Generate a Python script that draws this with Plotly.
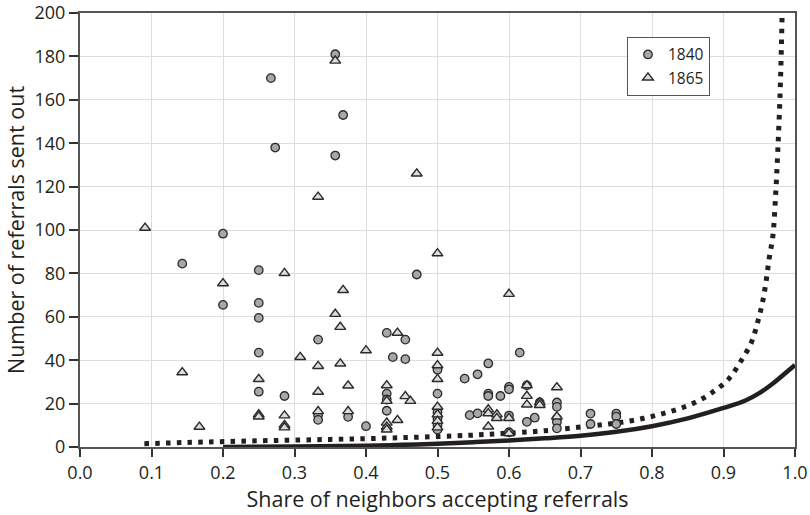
import plotly.graph_objects as go

# ---- data ----
c1840_x = [0.143, 0.2, 0.2, 0.25, 0.25, 0.25, 0.25, 0.25, 0.267, 0.273, 0.286,
           0.333, 0.333, 0.333, 0.357, 0.357, 0.368, 0.375, 0.4,
           0.429, 0.429, 0.429, 0.429, 0.4375, 0.455, 0.455, 0.471,
           0.5, 0.5, 0.5, 0.5, 0.5, 0.5, 0.538, 0.545, 0.556, 0.556,
           0.571, 0.571, 0.571, 0.588, 0.6, 0.6, 0.6, 0.6, 0.615,
           0.625, 0.625, 0.636, 0.643, 0.667, 0.667, 0.667, 0.667, 0.667,
           0.714, 0.714, 0.75, 0.75, 0.75]
c1840_y = [84.5, 98.3, 65.5, 81.5, 66.4, 59.5, 43.5, 25.5, 170, 138, 23.5,
           49.5, 14.7, 12.5, 181, 134.3, 153, 13.9, 9.6,
           52.6, 24.6, 21.9, 16.7, 41.4, 49.5, 40.5, 79.5,
           35.6, 24.6, 16, 13, 10, 8, 31.5, 14.7, 33.5, 15.5,
           38.5, 24.6, 23.5, 23.5, 27.7, 26.6, 14.5, 6.8, 43.5,
           28.4, 11.6, 13.5, 20.5, 20.5, 18.5, 13.2, 11.5, 8.6,
           15.4, 10.6, 15.4, 14, 10.6]

t1865_x = [0.091, 0.143, 0.167, 0.2, 0.25, 0.25, 0.25, 0.286, 0.286, 0.286, 0.286,
           0.308, 0.333, 0.333, 0.333, 0.333, 0.357, 0.357, 0.364, 0.364, 0.368,
           0.375, 0.375, 0.4, 0.429, 0.429, 0.429, 0.429, 0.429, 0.444, 0.444,
           0.455, 0.462, 0.471, 0.5, 0.5, 0.5, 0.5, 0.5, 0.5, 0.5, 0.5,
           0.571, 0.571, 0.571, 0.583, 0.583, 0.6, 0.6, 0.6,
           0.625, 0.625, 0.625, 0.643, 0.643, 0.667, 0.667]
t1865_y = [101, 34.4, 9.3, 75.4, 31.3, 15, 14, 80.1, 14.5, 10.1, 9,
           41.4, 115.3, 37.3, 25.4, 16.5, 178, 61.3, 55.3, 38.4, 72.3,
           28.3, 16.5, 44.5, 28.4, 21.2, 11.2, 9.3, 8, 52.6, 12.4,
           23.4, 21.2, 126, 89.2, 43.4, 37.6, 31.3, 18.5, 15, 12, 9,
           17.3, 15.5, 9.4, 15, 13.3, 70.5, 13.3, 6.3,
           28.4, 23.5, 19.5, 20.5, 19.3, 27.5, 14]

# dotted curve, points
dot_x = [0.09, 0.15, 0.24, 0.35, 0.45, 0.545, 0.59, 0.65, 0.71, 0.74, 0.771,
         0.8, 0.829, 0.858, 0.884, 0.907, 0.924, 0.939, 0.948, 0.955,
         0.96, 0.964, 0.969, 0.973, 0.976, 0.979, 0.981, 0.982]
dot_y = [1.5, 2.1, 2.8, 3.5, 4.3, 5.4, 6.2, 7.5, 9.6, 10.6, 12.1,
         14.1, 16.7, 20.2, 25.1, 31.3, 39.4, 48.2, 57.8, 67.4,
         77.4, 87.2, 97.1, 116.8, 137, 161.5, 185, 200]

# solid curve, points
sol_x = [0.2, 0.3, 0.4, 0.45, 0.5, 0.55, 0.6, 0.65, 0.7, 0.75, 0.8, 0.85,
         0.9, 0.93, 0.95, 0.97, 0.99, 1.0]
sol_y = [0, 0.2, 0.6, 1.0, 1.5, 2.2, 3.0, 4.0, 5.2, 7.0, 9.6, 13.2,
         18.0, 21.3, 24.8, 29.5, 35.0, 37.8]

xticks = [round(i * 0.1, 1) for i in range(11)]
xlabels = [f"{v:.1f}" for v in xticks]
yticks = list(range(0, 201, 20))

FONT = "Open Sans"
fig = go.Figure()

fig.add_trace(go.Scatter(x=sol_x, y=sol_y, mode="lines", line_shape="spline",
                         line=dict(color="#231f20", width=4.5), showlegend=False,
                         hoverinfo="skip"))
fig.add_trace(go.Scatter(x=dot_x, y=dot_y, mode="lines", line_shape="spline",
                         line=dict(color="#231f20", width=5, dash="4.5px,6.3px"),
                         showlegend=False, hoverinfo="skip"))
fig.add_trace(go.Scatter(x=c1840_x, y=c1840_y, mode="markers", name="1840",
                         marker=dict(symbol="circle", size=8.5, color="#a7a7a7",
                                     line=dict(color="#2b2b2b", width=1.3))))
fig.add_trace(go.Scatter(x=t1865_x, y=t1865_y, mode="markers", name="1865",
                         marker=dict(symbol="triangle-up", size=9.5, color="#dcdcdc",
                                     line=dict(color="#2b2b2b", width=1.4))))

fig.update_layout(
    width=810, height=515,
    margin=dict(l=80, r=15, t=13, b=68, autoexpand=False),
    plot_bgcolor="white", paper_bgcolor="white",
    font=dict(family=FONT, size=18, color="#231f20"),
    legend=dict(x=0.765, y=0.945, xanchor="left", yanchor="top",
                bgcolor="white", bordercolor="#555", borderwidth=1,
                font=dict(size=15.5, family=FONT), itemwidth=30,
                tracegroupgap=0),
    xaxis=dict(range=[0, 1], tickvals=xticks, ticktext=xlabels,
               automargin=False, ticklabeloverflow="allow",
               showgrid=True, gridcolor="#dedede", gridwidth=1.3,
               showline=True, linecolor="#555", linewidth=2, mirror=True,
               ticks="outside", ticklen=8, tickcolor="#333", tickwidth=1.5,
               zeroline=False,
               title=dict(text="Share of neighbors accepting referrals",
                          font=dict(size=21.5, family=FONT), standoff=4)),
    yaxis=dict(range=[0, 200], tickvals=yticks,
               automargin=False, ticklabeloverflow="allow",
               showgrid=True, gridcolor="#dedede", gridwidth=1.3,
               showline=True, linecolor="#555", linewidth=2, mirror=True,
               ticks="outside", ticklen=9, tickcolor="#333", tickwidth=1.5,
               zeroline=False,
               title=dict(text="Number of referrals sent out",
                          font=dict(size=21.5, family=FONT), standoff=4)),
)

fig.write_html("out.html")
